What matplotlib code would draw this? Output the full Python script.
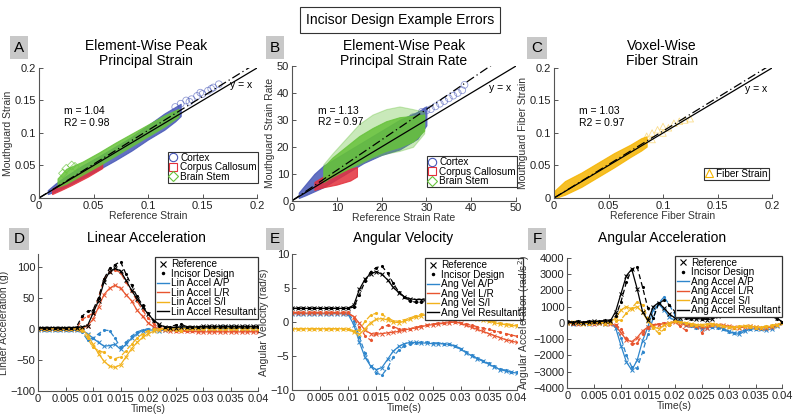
import numpy as np
import matplotlib
matplotlib.use("Agg")
import matplotlib.pyplot as plt
from matplotlib.lines import Line2D

plt.rcParams['font.family'] = ['Liberation Sans', 'DejaVu Sans']
plt.rcParams['font.size'] = 7.5

# ---------------- scatter panels (dense clouds read as envelopes) ----------------
a_cortex_x = [0.008, 0.015, 0.025, 0.04, 0.055, 0.07, 0.085, 0.1, 0.115, 0.125, 0.13]
a_cortex_lo = [0.006, 0.010, 0.018, 0.031, 0.044, 0.058, 0.073, 0.090, 0.105, 0.118, 0.126]
a_cortex_hi = [0.012, 0.022, 0.034, 0.050, 0.064, 0.079, 0.094, 0.112, 0.130, 0.140, 0.145]
a_cortex_px = [0.125, 0.13, 0.135, 0.14, 0.145, 0.15, 0.155, 0.16, 0.165, 0.158, 0.148, 0.138]
a_cortex_py = [0.14, 0.145, 0.15, 0.152, 0.157, 0.16, 0.165, 0.17, 0.175, 0.168, 0.162, 0.148]
a_cc_x = [0.012, 0.02, 0.03, 0.045, 0.058]
a_cc_lo = [0.006, 0.012, 0.020, 0.033, 0.046]
a_cc_hi = [0.014, 0.022, 0.032, 0.045, 0.055]
a_bs_x = [0.017, 0.025, 0.04, 0.055, 0.07, 0.085, 0.1, 0.115, 0.128]
a_bs_lo = [0.017, 0.022, 0.036, 0.050, 0.065, 0.080, 0.095, 0.110, 0.125]
a_bs_hi = [0.030, 0.045, 0.056, 0.070, 0.085, 0.099, 0.113, 0.127, 0.137]
a_bs_px = [0.025, 0.03, 0.033, 0.022]
a_bs_py = [0.045, 0.05, 0.048, 0.038]

b_cortex_x = [1.5, 3, 5, 7, 10, 13, 16, 20, 24, 28, 30]
b_cortex_lo = [1.0, 2.0, 3.5, 5.0, 8.0, 11.0, 14.0, 17.0, 19.0, 23.0, 28.0]
b_cortex_hi = [3.0, 6.0, 10.0, 13.0, 16.0, 19.0, 22.0, 26.0, 30.0, 33.0, 35.0]
b_cortex_px = [27, 29, 30, 31, 32, 33, 34, 35, 36, 37, 38, 38.5]
b_cortex_py = [31, 33, 33.5, 34, 35, 36, 37, 38, 39, 40, 41, 43]
b_cc_x = [5, 7, 10, 13, 14.5]
b_cc_lo = [4.0, 5.0, 6.0, 7.5, 9.0]
b_cc_hi = [7.0, 9.0, 10.5, 12.0, 12.5]
b_bs_x = [7, 9, 12, 15, 18, 21, 24, 27, 29.5]
b_bs_lo = [7, 9, 11.5, 14, 16.5, 18.5, 20, 22, 26]
b_bs_hi = [12.5, 16, 20, 24, 27, 29.5, 31, 31.5, 32]
b_bs_halo_lo = [7, 9, 11.5, 13.5, 16, 17.5, 18.5, 20, 25]
b_bs_halo_hi = [13.5, 17.5, 23, 28.5, 32, 34, 35, 34, 33]

c_fib_x = [0.001, 0.01, 0.025, 0.04, 0.055, 0.07, 0.08, 0.085]
c_fib_lo = [0.0, 0.005, 0.017, 0.032, 0.047, 0.063, 0.073, 0.079]
c_fib_hi = [0.012, 0.026, 0.039, 0.054, 0.069, 0.082, 0.092, 0.095]
c_fib_px = [0.085, 0.09, 0.095, 0.1, 0.105, 0.11, 0.115, 0.12, 0.125, 0.09, 0.1]
c_fib_py = [0.095, 0.1, 0.105, 0.11, 0.108, 0.115, 0.118, 0.12, 0.122, 0.09, 0.1]

slopes = [1.04, 1.13, 1.03]
r2 = [0.98, 0.97, 0.97]

# ---------------- time series (t in ms, 0..40) ----------------
t = np.linspace(0, 0.04, 41)

d_ap_ref = [-2, -2, -2, -2, -2, -2, -2, -2, -2, -8, -15, -22, -28, -27, -25, -33, -25, -15, -8, -3, -2,
            -2, -3, -2, -1, 0, 1, 1, 2, 2, 2, 2, 2, 3, 3, 3, 2, 2, 2, 2, 2]
d_ap_inc = [-2, -2, -2, -2, -2, -2, -2, -2, -5, -18, -15, -8, -2, -3, -15, -30, -22, -12, -5, -2, 0,
            2, 0, -1, -1, 0, 1, 1, 1, 2, 2, 2, 2, 2, 2, 2, 2, 2, 2, 2, 2]
d_lr_ref = [0, 0, 0, 0, 0, 0, 0, 0, 0, 5, 15, 35, 55, 65, 70, 65, 55, 45, 30, 20, 10,
            3, 0, -2, -3, -3, -4, -4, -4, -5, -5, -5, -5, -5, -5, -5, -5, -5, -5, -5, -5]
d_lr_inc = [0, 0, 0, 0, 0, 0, 0, 0, 15, 20, 25, 50, 80, 92, 95, 90, 75, 60, 45, 30, 18,
            8, 2, 0, -2, -3, -3, -3, -3, -4, -4, -4, -4, -4, -4, -4, -4, -4, -4, -4, -4]
d_si_ref = [0, 0, 0, 0, 0, 0, 0, 0, 0, -10, -25, -40, -52, -60, -62, -58, -45, -32, -22, -14, -8,
            -4, -2, 0, 0, 0, 0, 1, 1, 1, 1, 1, 1, 1, 1, 1, 1, 1, 1, 1, 1]
d_si_inc = [0, 0, 0, 0, 0, 0, 0, 0, -3, -15, -30, -35, -38, -45, -48, -45, -35, -25, -15, -8, -3,
            -1, 0, 0, 0, -2, -3, -1, 0, 0, 0, 0, 0, 0, 0, 0, 0, 0, 0, 0, 0]
d_res_ref = [2, 2, 2, 2, 2, 2, 2, 2, 3, 5, 25, 45, 75, 92, 97, 93, 78, 62, 48, 35, 24,
             14, 7, 3, 2, 2, 3, 3, 3, 3, 4, 4, 4, 4, 4, 4, 4, 4, 4, 4, 4]
d_res_inc = [1, 1, 1, 1, 1, 1, 1, 3, 20, 28, 30, 50, 80, 97, 103, 108, 88, 70, 52, 38, 25,
             12, 5, 3, 3, 6, 8, 3, 3, 3, 3, 3, 3, 3, 3, 3, 3, 3, 3, 3, 3]

e_ap_ref = [1.2, 1.2, 1.2, 1.2, 1.2, 1.2, 1.2, 1.2, 1.2, 1.2, 1.1, -0.4, -3.0, -5.2, -6.5, -7.0, -6.7,
            -5.5, -4.3, -3.6, -3.2, -3.0, -3.0, -3.1, -3.1, -3.2, -3.2, -3.2, -3.3, -3.6, -4.0, -4.5,
            -5.0, -5.4, -5.8, -6.2, -6.6, -7.0, -7.2, -7.4, -7.5]
e_ap_inc = [1.3, 1.3, 1.3, 1.3, 1.3, 1.3, 1.3, 1.3, 1.3, 1.3, 1.2, 0.2, -2.2, -4.6, -6.5, -7.5, -7.8,
            -6.8, -5.2, -4.1, -3.5, -3.2, -3.1, -3.0, -3.0, -3.1, -3.1, -3.2, -3.3, -3.5, -3.9, -4.4,
            -4.9, -5.3, -5.7, -6.1, -6.5, -6.9, -7.1, -7.3, -7.4]
e_lr_ref = [1.3, 1.3, 1.3, 1.3, 1.3, 1.3, 1.3, 1.3, 1.3, 1.3, 1.3, 0.8, -0.2, -1.2, -1.7, -1.8, -1.7,
            -1.6, -1.5, -1.4, -1.2, -1.0, -0.9, -0.7, -0.5, -0.4, -0.3, -0.2, -0.1, 0.0, -0.2, -0.5,
            -0.8, -1.1, -1.4, -1.7, -2.0, -2.3, -2.6, -2.8, -3.0]
e_lr_inc = [1.4, 1.4, 1.4, 1.4, 1.4, 1.4, 1.4, 1.4, 1.4, 1.4, 1.4, 0.6, -0.8, -2.0, -2.7, -1.6, -0.8,
            -0.5, -0.7, -1.0, -1.1, -1.0, -0.8, -0.6, -0.4, -0.3, -0.2, -0.1, 0.0, 0.0, -0.1, -0.3,
            -0.5, -0.7, -0.9, -1.1, -1.3, -1.5, -1.7, -1.9, -2.1]
e_si_ref = [-1.0, -1.0, -1.0, -1.0, -1.0, -1.0, -1.0, -1.0, -1.0, -1.0, -1.1, -1.5, -1.8, -1.0, -0.1,
            0.4, 0.5, 0.3, 0.0, -0.1, 0.1, 0.4, 0.7, 0.9, 1.1, 1.3, 1.4, 1.5, 1.5, 1.4, 1.2, 0.9, 0.7,
            0.5, 0.3, 0.1, -0.1, -0.3, -0.4, -0.5, -0.6]
e_si_inc = [-1.0, -1.0, -1.0, -1.0, -1.0, -1.0, -1.0, -1.0, -1.0, -1.0, -1.0, -1.3, -1.2, 0.1, 1.0,
            1.3, 1.1, 0.6, 0.2, 0.1, 0.3, 0.6, 0.9, 1.1, 1.3, 1.5, 1.6, 1.6, 1.6, 1.5, 1.3, 1.0, 0.8,
            0.6, 0.4, 0.2, 0.0, -0.2, -0.3, -0.4, -0.5]
e_res_ref = [2.0, 2.0, 2.0, 2.0, 2.0, 2.0, 2.0, 2.0, 2.0, 2.0, 2.0, 2.5, 4.8, 6.3, 7.1, 7.4, 7.0, 6.2,
             5.1, 4.3, 3.7, 3.4, 3.3, 3.3, 3.4, 3.5, 3.6, 3.7, 3.8, 3.9, 4.0, 4.1, 4.1, 4.1, 4.1,
             4.1, 4.1, 4.1, 4.1, 4.1, 4.1]
e_res_inc = [2.0, 2.0, 2.0, 2.0, 2.0, 2.0, 2.0, 2.0, 2.0, 2.0, 2.0, 2.2, 4.0, 6.0, 7.4, 8.0, 8.2, 7.2,
             5.7, 4.4, 3.7, 3.1, 2.9, 3.0, 3.2, 3.4, 3.5, 3.6, 3.7, 3.8, 3.9, 4.0, 4.0, 4.0, 4.0,
             4.0, 4.0, 4.0, 4.0, 4.0, 4.0]

f_ap_ref = [0, -50, 50, 0, -80, 60, 0, -50, 0, -300, -1400, -2400, -2900, -2300, -1100, -250, 800,
            1150, 800, 350, 150, 50, -100, -150, -250, -350, -300, -250, -250, -350, -500, -650, -700,
            -500, -400, -350, -400, -450, -350, -200, 0]
f_ap_inc = [0, 50, -50, 0, 60, -60, 0, 50, 0, -200, -900, -2000, -2700, -2800, -1800, -700, 300,
            1200, 1600, 1100, 500, 100, -100, -200, -300, -300, -250, -250, -300, -400, -550, -600,
            -550, -450, -350, -350, -400, -400, -300, -150, 0]
f_lr_ref = [0, 0, -50, 0, 0, -50, 0, 0, -50, -150, -600, -1050, -1150, -900, -500, -250, -150, -100,
            -50, 0, 50, 0, -150, -100, -200, -250, -300, -150, -100, -150, -200, -250, -300, -250,
            -200, -250, -300, -300, -250, -150, 0]
f_lr_inc = [0, -50, 0, 0, -50, 0, 0, -50, 0, -100, -400, -900, -1300, -1250, -700, -300, -150, -50,
            0, -100, 100, -200, -450, -100, -200, -600, -200, -100, -150, -200, -250, -300, -250,
            -200, -250, -300, -300, -250, -200, -100, 0]
f_si_ref = [0, 50, 0, -50, 0, 50, 0, -50, 50, 300, 800, 1000, 850, 1000, 650, 100, -250, -350, -150,
            0, 100, 50, 0, -50, -100, -150, -100, -50, -100, -200, -250, -300, -250, -200, -200,
            -250, -300, -250, -200, -100, 0]
f_si_inc = [0, 0, 50, 0, -50, 0, 50, 0, 0, 100, 200, 600, 900, 1300, 1100, 300, -300, -650, -400,
            -100, 100, 50, 0, -100, -150, -100, -50, -100, -150, -200, -250, -250, -200, -200, -250,
            -300, -250, -200, -150, -100, 0]
f_res_ref = [50, 0, 80, 0, 50, 100, 80, 120, 100, 700, 1800, 2900, 3300, 2100, 700, 150, 1000, 1250,
             900, 550, 300, 300, 350, 300, 250, 250, 200, 250, 400, 550, 700, 780, 800, 780, 750,
             750, 700, 600, 500, 300, 50]
f_res_inc = [100, 50, 100, 50, 100, 80, 100, 150, 150, 400, 1300, 2500, 3300, 3450, 2200, 900, 300,
             1200, 1400, 1100, 700, 400, 300, 250, 300, 250, 300, 350, 450, 550, 650, 700, 750, 750,
             700, 650, 600, 500, 400, 250, 50]

c_blue = '#4858b8'
c_red = '#e3303c'
c_green = '#66c23a'
c_fiber = '#f5b400'
c_ap = '#2f86cc'
c_lr = '#e8552f'
c_si = '#f2b21c'
fitdash = (0, (7, 2.5, 1, 2.5))

fig = plt.figure(figsize=(8, 4.2), dpi=100)


def style_axes(ax):
    for s in ['top', 'right']:
        ax.spines[s].set_visible(False)
    for s in ['left', 'bottom']:
        ax.spines[s].set_color('#555555')
        ax.spines[s].set_linewidth(0.8)
    ax.tick_params(direction='in', length=3, width=0.7, color='#555555', labelsize=8, pad=2,
                   labelcolor='#222222')


def band(ax, x, lo, hi, color, alpha=0.85):
    ax.fill_between(x, lo, hi, color=color, alpha=alpha, lw=0.8, edgecolor=color)


# ---- A ----
axA = fig.add_axes([0.04875, 0.5286, 0.2725, 0.3095])
band(axA, a_cortex_x, a_cortex_lo, a_cortex_hi, c_blue)
axA.scatter(a_cortex_px, a_cortex_py, s=24, facecolors='none', edgecolors=c_blue, lw=0.6, alpha=0.6)
band(axA, a_cc_x, a_cc_lo, a_cc_hi, c_red)
band(axA, a_bs_x, a_bs_lo, a_bs_hi, c_green)
axA.scatter(a_bs_px, a_bs_py, s=20, marker='D', facecolors='none', edgecolors=c_green, lw=0.6, alpha=0.7)
# ---- B ----
axB = fig.add_axes([0.365, 0.5221, 0.28, 0.3207])
band(axB, b_cortex_x, b_cortex_lo, b_cortex_hi, c_blue)
axB.scatter(b_cortex_px, b_cortex_py, s=24, facecolors='none', edgecolors=c_blue, lw=0.6, alpha=0.6)
band(axB, b_cc_x, b_cc_lo, b_cc_hi, c_red)
band(axB, b_bs_x, b_bs_halo_lo, b_bs_halo_hi, c_green, alpha=0.35)
band(axB, b_bs_x, b_bs_lo, b_bs_hi, c_green)
# ---- C ----
axC = fig.add_axes([0.6925, 0.5286, 0.2725, 0.3095])
band(axC, c_fib_x, c_fib_lo, c_fib_hi, c_fiber)
axC.scatter(c_fib_px, c_fib_py, s=22, marker='^', facecolors='none', edgecolors=c_fiber, lw=0.6, alpha=0.45)

scat = [
    (axA, 0.2, "Element-Wise Peak\nPrincipal Strain", "Reference Strain", "Mouthguard Strain",
     [0, 0.05, 0.1, 0.15, 0.2], ['0', '0.05', '0.1', '0.15', '0.2'], 0.87, 146),
    (axB, 50, "Element-Wise Peak\nPrincipal Strain Rate", "Reference Strain Rate", "Mouthguard Strain Rate",
     [0, 10, 20, 30, 40, 50], ['0', '10', '20', '30', '40', '50'], 0.84, 404),
    (axC, 0.2, "Voxel-Wise\nFiber Strain", "Reference Fiber Strain", "Mouthguard Fiber Strain",
     [0, 0.05, 0.1, 0.15, 0.2], ['0', '0.05', '0.1', '0.15', '0.2'], 0.84, 662),
]
for i, (ax, top, title, xl, yl, ticks, tlab, yx_y, tx) in enumerate(scat):
    ax.plot([0, top], [0, top], color='k', lw=0.9)
    ax.plot([0, top], [0, top * slopes[i]], color='k', lw=0.9, linestyle=fitdash)
    ax.set_xlim(0, top)
    ax.set_ylim(0, top)
    ax.set_xticks(ticks)
    ax.set_xticklabels(tlab)
    ax.set_yticks(ticks)
    ax.set_yticklabels(tlab)
    ax.set_xlabel(xl, fontsize=7.5, labelpad=0, color='#333333')
    ax.set_ylabel(yl, fontsize=7.5, labelpad=1, color='#333333')
    fig.text(tx / 800, 1 - 53.5 / 420, title, fontsize=10, ha='center', va='center', linespacing=1.05)
    ax.text(0.115, 0.625, "m = %.2f\nR2 = %.2f" % (slopes[i], r2[i]), transform=ax.transAxes,
            fontsize=7.5, va='center', ha='left', linespacing=1.2)
    ax.text(0.98, yx_y, "y = x", transform=ax.transAxes, fontsize=7.5, va='center', ha='right')
    style_axes(ax)

legA = [Line2D([], [], ls='none', marker='o', mfc='none', mec=c_blue, ms=6, mew=0.8),
        Line2D([], [], ls='none', marker='s', mfc='none', mec=c_red, ms=5.5, mew=0.8),
        Line2D([], [], ls='none', marker='D', mfc='none', mec=c_green, ms=5, mew=0.8)]
regions = ["Cortex", "Corpus Callosum", "Brain Stem"]
for ax, anchor in [(axA, (1.005, 0.115)), (axB, (1.004, 0.10))]:
    lg = ax.legend(legA, regions, loc='lower right', bbox_to_anchor=anchor, borderaxespad=0,
                   fontsize=7.2, fancybox=False, edgecolor='#333333', framealpha=1,
                   handlelength=0.8, handletextpad=0.3, labelspacing=-0.05, borderpad=0.12)
    lg.get_frame().set_linewidth(0.8)
lg = axC.legend([Line2D([], [], ls='none', marker='^', mfc='none', mec=c_fiber, ms=6, mew=0.8)],
                ["Fiber Strain"], loc='lower right', bbox_to_anchor=(0.986, 0.138), borderaxespad=0,
                fontsize=7.2, fancybox=False, edgecolor='#333333', framealpha=1,
                handlelength=0.8, handletextpad=0.3, borderpad=0.12)
lg.get_frame().set_linewidth(0.8)

# ---- D, E, F ----
axD = fig.add_axes([0.0475, 0.069, 0.275, 0.326])
axE = fig.add_axes([0.365, 0.0714, 0.281, 0.324])
axF = fig.add_axes([0.709, 0.0762, 0.269, 0.31])

ts = [
    (axD, "Linear Acceleration", "Linaer Acceleration (g)", "Lin Accel",
     [(d_ap_ref, d_ap_inc), (d_lr_ref, d_lr_inc), (d_si_ref, d_si_inc), (d_res_ref, d_res_inc)],
     (-100, 120), [-100, -50, 0, 50, 100], (1.0, 0.978), 146),
    (axE, "Angular Velocity", "Angular Velocity (rad/s)", "Ang Vel",
     [(e_ap_ref, e_ap_inc), (e_lr_ref, e_lr_inc), (e_si_ref, e_si_inc), (e_res_ref, e_res_inc)],
     (-10, 10), [-10, -5, 0, 5, 10], (1.027, 0.97), 403),
    (axF, "Angular Acceleration", "Angular Acceleration (rad/s$^2$)", "Ang Accel",
     [(f_ap_ref, f_ap_inc), (f_lr_ref, f_lr_inc), (f_si_ref, f_si_inc), (f_res_ref, f_res_inc)],
     (-4000, 4000), [-4000, -3000, -2000, -1000, 0, 1000, 2000, 3000, 4000], (1.0, 1.015), 662),
]
comp_colors = [c_ap, c_lr, c_si, 'k']
comp_names = ["A/P", "L/R", "S/I", "Resultant"]
for ax, title, yl, prefix, series, ylim, yticks, anchor, tx in ts:
    for (ref, inc), col in zip(series, comp_colors):
        ax.plot(t, ref, color=col, lw=0.9, marker='x', ms=3.4, mew=0.7)
        ax.plot(t, inc, color=col, lw=0.9, ls=(0, (4, 2.5)), marker='.', ms=2.5)
    ax.set_xlim(0, 0.04)
    ax.set_ylim(*ylim)
    ax.set_xticks(np.arange(0, 0.0401, 0.005))
    ax.set_xticklabels(['0', '0.005', '0.01', '0.015', '0.02', '0.025', '0.03', '0.035', '0.04'])
    ax.set_yticks(yticks)
    ax.set_xlabel("Time(s)", fontsize=7.5, labelpad=0, color='#333333')
    ax.set_ylabel(yl, fontsize=7.5, labelpad=1, color='#333333')
    fig.text(tx / 800, 1 - 238 / 420, title, fontsize=10, ha='center', va='center')
    style_axes(ax)
    handles = [Line2D([], [], color='k', ls='none', marker='x', ms=4, mew=0.8),
               Line2D([], [], color='k', ls='none', marker='.', ms=3)]
    labels = ["Reference", "Incisor Design"]
    for col, nm in zip(comp_colors, comp_names):
        handles.append(Line2D([], [], color=col, lw=1))
        labels.append(prefix + " " + nm)
    lg = ax.legend(handles, labels, loc='upper right', bbox_to_anchor=anchor, borderaxespad=0,
                   fontsize=7.2, fancybox=False, edgecolor='#333333', framealpha=1,
                   handlelength=1.2, handletextpad=0.2, labelspacing=-0.05, borderpad=0.2)
    lg.get_frame().set_linewidth(0.9)

# panel letters
for letter, x, y in [("A", 19, 47.5), ("B", 275, 47.5), ("C", 537, 48),
                     ("D", 19, 239), ("E", 275, 239), ("F", 537, 239)]:
    fig.text(x / 800, 1 - y / 420, letter, fontsize=11, ha='center', va='center',
             bbox=dict(boxstyle='square,pad=0.28', fc='#c8c8c8', ec='none'))

fig.text(0.5, 1 - 20 / 420, "Incisor Design Example Errors", fontsize=10, ha='center', va='center',
         bbox=dict(boxstyle='square,pad=0.45', fc='white', ec='#333333', lw=0.8))

fig.savefig("out.png", dpi=100)
